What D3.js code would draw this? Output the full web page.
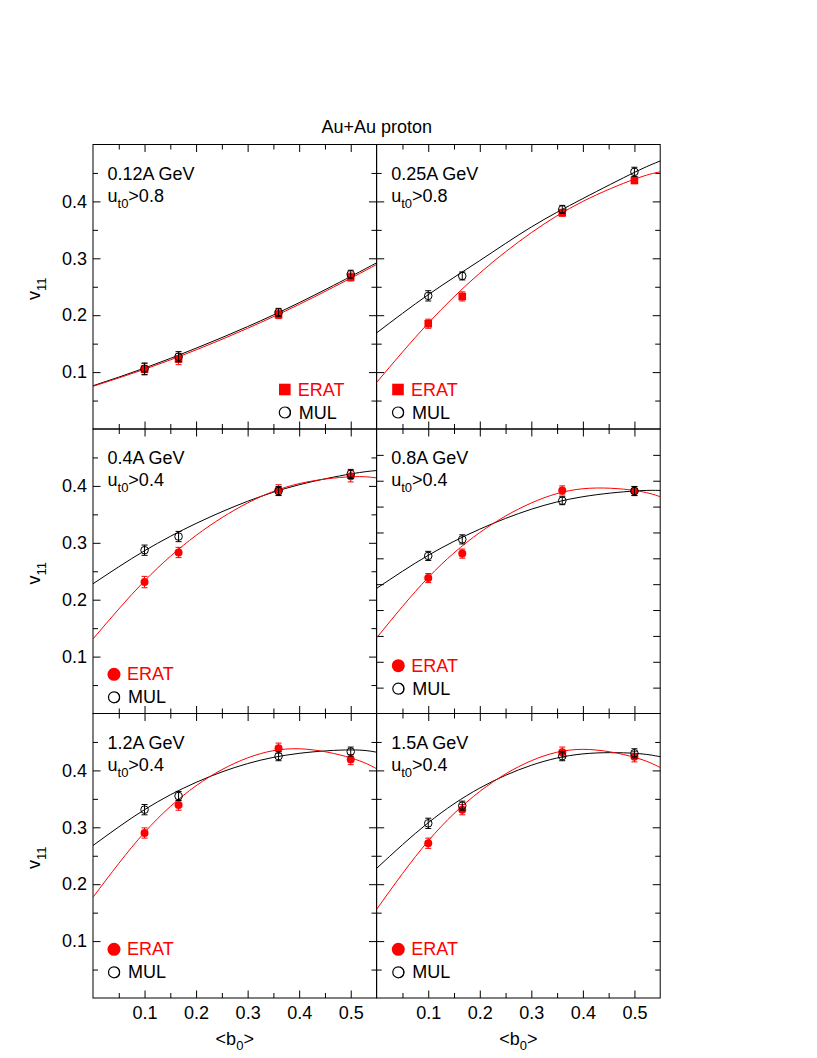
<!DOCTYPE html>
<html>
<head>
<meta charset="utf-8">
<script src="https://cdn.jsdelivr.net/npm/d3@7"></script>
<style>
body { margin: 0; background: #fff; }
text { font-family: "Liberation Sans", Arial, Helvetica, sans-serif; }
</style>
</head>
<body>
<div id="chart-area"></div>
<script>
// data
var bValues = [0.1, 0.166, 0.36, 0.5];
var fitX = [0, 0.1, 0.2, 0.3, 0.4, 0.5, 0.55];
var energies = ["0.12A GeV", "0.25A GeV", "0.4A GeV", "0.8A GeV", "1.2A GeV", "1.5A GeV"];
var cuts = [">0.8", ">0.8", ">0.4", ">0.4", ">0.4", ">0.4"];
var xTicks = [0.1, 0.2, 0.3, 0.4, 0.5];
var yTicks = [0.1, 0.2, 0.3, 0.4];

var eratV = [
	[0.105, 0.123, 0.201, 0.267],
	[0.185, 0.233, 0.380, 0.437],
	[0.231, 0.283, 0.393, 0.417],
	[0.238, 0.281, 0.392, 0.391],
	[0.290, 0.339, 0.439, 0.419],
	[0.272, 0.331, 0.432, 0.424]
];
var eratErr = [
	[0.010, 0.010, 0.007, 0.007],
	[0.008, 0.008, 0.006, 0.006],
	[0.010, 0.009, 0.009, 0.010],
	[0.008, 0.008, 0.008, 0.008],
	[0.009, 0.009, 0.009, 0.009],
	[0.009, 0.009, 0.009, 0.009]
];
var mulV = [
	[0.106, 0.127, 0.205, 0.272],
	[0.234, 0.269, 0.386, 0.452],
	[0.287, 0.311, 0.391, 0.421],
	[0.277, 0.306, 0.374, 0.391],
	[0.331, 0.355, 0.425, 0.433],
	[0.307, 0.338, 0.425, 0.430]
];
var mulErr = [
	[0.010, 0.009, 0.007, 0.007],
	[0.009, 0.007, 0.007, 0.008],
	[0.009, 0.009, 0.008, 0.008],
	[0.008, 0.008, 0.007, 0.008],
	[0.009, 0.008, 0.008, 0.008],
	[0.009, 0.008, 0.008, 0.008]
];
var eratFit = [
	[0.075, 0.105, 0.139, 0.177, 0.219, 0.265, 0.289],
	[0.082, 0.186, 0.274, 0.345, 0.400, 0.439, 0.452],
	[0.131, 0.233, 0.313, 0.370, 0.404, 0.416, 0.414],
	[0.133, 0.239, 0.318, 0.370, 0.395, 0.392, 0.381],
	[0.177, 0.291, 0.373, 0.422, 0.438, 0.422, 0.403],
	[0.156, 0.276, 0.363, 0.417, 0.437, 0.423, 0.405]
];
var mulFit = [
	[0.076, 0.107, 0.142, 0.180, 0.222, 0.268, 0.292],
	[0.169, 0.236, 0.296, 0.355, 0.405, 0.451, 0.471],
	[0.228, 0.286, 0.334, 0.373, 0.402, 0.421, 0.427],
	[0.220, 0.278, 0.324, 0.359, 0.381, 0.391, 0.392],
	[0.268, 0.331, 0.379, 0.412, 0.430, 0.436, 0.432],
	[0.228, 0.308, 0.369, 0.409, 0.429, 0.430, 0.424]
];

// layout
var width = 817;
var height = 1058;
var colX = [93, 376.7];
var rowY = [144.5, 429, 713.5];
var panelW = 283.5;
var panelH = 284.5;
var red = "#ff0000";
var font = 18;
// legend marker position in each panel: x from panel left, y above panel bottom
var legendPos = [
	{ x: 191.8, y: 39.5 }, { x: 21.3, y: 39.5 },
	{ x: 21, y: 39.2 }, { x: 21.6, y: 47.8 },
	{ x: 21, y: 48.7 }, { x: 21.6, y: 48.7 }
];

var svg = d3.select("#chart-area")
	.append("svg")
	.attr("width", width)
	.attr("height", height);

var xScale = d3.scaleLinear().domain([0, 0.55]).range([0, panelW]);
var yScale = d3.scaleLinear().domain([0, 0.5]).range([panelH, 0]);

var fitLine = d3.line()
	.x(d => xScale(d[0]))
	.y(d => yScale(d[1]))
	.curve(d3.curveNatural);

svg.append("text")
	.attr("x", colX[1])
	.attr("y", 133)
	.attr("text-anchor", "middle")
	.attr("font-size", font + "px")
	.text("Au+Au proton");

function styleAxis(g) {
	g.select(".domain").remove();
	g.selectAll("line").attr("stroke", "black").attr("stroke-width", 1);
	g.selectAll("text").attr("font-family", "Liberation Sans, Arial, sans-serif").attr("font-size", font + "px").attr("fill", "black");
	g.attr("font-family", null).attr("font-size", null);
}

var xMajor = [0.1, 0.2, 0.3, 0.4, 0.5];
var xMinor = [0.05, 0.15, 0.25, 0.35, 0.45];
var yMajor = [0.1, 0.2, 0.3, 0.4];
var yMinor = [0.05, 0.15, 0.25, 0.35, 0.45];
var yEleven = d3.range(1, 11).map(k => k * 0.5 / 11);

energies.forEach(function (label, i) {
	var col = i % 2;
	var row = Math.floor(i / 2);
	var g = svg.append("g")
		.attr("transform", "translate(" + colX[col] + "," + rowY[row] + ")");

	// ticks on all four sides
	var sides = [
		{ f: d3.axisBottom, t: "translate(0," + panelH + ")", s: xScale, sign: -1 },
		{ f: d3.axisTop, t: "translate(0,0)", s: xScale, sign: -1 },
		{ f: d3.axisLeft, t: "translate(0,0)", s: yScale, sign: -1 },
		{ f: d3.axisRight, t: "translate(" + panelW + ",0)", s: yScale, sign: -1 }
	];
	sides.forEach(function (sd, k) {
		var isX = k < 2;
		var showLabels = (k === 0 && row === 2) || (k === 2 && col === 0);
		if (!isX && i === 3) {
			g.append("g").attr("transform", sd.t)
				.call(sd.f(sd.s).tickValues(yEleven).tickSizeInner(-7).tickSizeOuter(0).tickFormat(""))
				.call(styleAxis);
			return;
		}
		var major = isX ? xMajor : yMajor;
		var minor = isX ? xMinor : yMinor;
		g.append("g").attr("transform", sd.t)
			.call(sd.f(sd.s).tickValues(minor).tickSizeInner(-5).tickSizeOuter(0).tickFormat(""))
			.call(styleAxis);
		g.append("g").attr("transform", sd.t)
			.call(sd.f(sd.s).tickValues(major).tickSizeInner(-7.5).tickSizeOuter(0)
				.tickPadding(isX ? 8 : 6)
				.tickFormat(showLabels ? d3.format(".1f") : ""))
			.call(styleAxis);
	});

	g.append("rect")
		.attr("width", panelW)
		.attr("height", panelH)
		.attr("fill", "none")
		.attr("stroke", "black")
		.attr("stroke-width", 1);

	// fits
	g.append("path")
		.attr("d", fitLine(fitX.map((x, j) => [x, mulFit[i][j]])))
		.attr("fill", "none").attr("stroke", "black").attr("stroke-width", 1);
	g.append("path")
		.attr("d", fitLine(fitX.map((x, j) => [x, eratFit[i][j]])))
		.attr("fill", "none").attr("stroke", red).attr("stroke-width", 1);

	function drawSeries(vals, errs, color, marker) {
		var pts = bValues.map((b, j) => ({ b: b, v: vals[j], e: errs[j] }));
		var eb = g.append("g").selectAll("g").data(pts).enter().append("g")
			.attr("stroke", color).attr("stroke-width", 1);
		eb.append("line")
			.attr("x1", d => xScale(d.b)).attr("x2", d => xScale(d.b))
			.attr("y1", d => yScale(d.v - d.e)).attr("y2", d => yScale(d.v + d.e));
		[-1, 1].forEach(function (s) {
			eb.append("line")
				.attr("x1", d => xScale(d.b) - 3).attr("x2", d => xScale(d.b) + 3)
				.attr("y1", d => yScale(d.v + s * d.e)).attr("y2", d => yScale(d.v + s * d.e));
		});
		if (marker === "square") {
			g.selectAll(null).data(pts).enter().append("rect")
				.attr("x", d => xScale(d.b) - 3.8).attr("y", d => yScale(d.v) - 3.8)
				.attr("width", 7.6).attr("height", 7.6).attr("fill", color);
		} else if (marker === "circle") {
			g.selectAll(null).data(pts).enter().append("circle")
				.attr("cx", d => xScale(d.b)).attr("cy", d => yScale(d.v))
				.attr("r", 4).attr("fill", color);
		} else {
			g.selectAll(null).data(pts).enter().append("circle")
				.attr("cx", d => xScale(d.b)).attr("cy", d => yScale(d.v))
				.attr("r", 3.8).attr("fill", "none").attr("stroke", color).attr("stroke-width", 1);
		}
	}
	var eratMarker = row === 0 ? "square" : "circle";
	drawSeries(eratV[i], eratErr[i], red, eratMarker);
	drawSeries(mulV[i], mulErr[i], "black", "open");

	// panel labels
	g.append("text")
		.attr("x", 14.5).attr("y", 35)
		.attr("font-size", font + "px")
		.text(label);
	var ut = g.append("text")
		.attr("x", 14.5).attr("y", 57)
		.attr("font-size", font + "px");
	ut.append("tspan").text("u");
	ut.append("tspan").attr("font-size", "13px").attr("dy", 6).text("t0");
	ut.append("tspan").attr("dy", -6).text(cuts[i]);

	// legend
	var lp = legendPos[i];
	var ly = panelH - lp.y;
	if (eratMarker === "square") {
		g.append("rect").attr("x", lp.x - 5.8).attr("y", ly - 5.8)
			.attr("width", 11.6).attr("height", 11.6).attr("fill", red);
	} else {
		g.append("circle").attr("cx", lp.x).attr("cy", ly).attr("r", 6.5).attr("fill", red);
	}
	g.append("text").attr("x", lp.x + 13).attr("y", ly + 6)
		.attr("font-size", font + "px").attr("fill", red).text("ERAT");
	g.append("circle").attr("cx", lp.x).attr("cy", ly + 23).attr("r", 5.5)
		.attr("fill", "none").attr("stroke", "black").attr("stroke-width", 1.2);
	g.append("path")
		.attr("d", d3.arc()({ innerRadius: 5.2, outerRadius: 6.2, startAngle: 0.3, endAngle: Math.PI - 0.3 }))
		.attr("transform", "translate(" + lp.x + "," + (ly + 23) + ")")
		.attr("fill", "black");
	g.append("text").attr("x", lp.x + 14).attr("y", ly + 29)
		.attr("font-size", font + "px").text("MUL");
});

// axis titles
rowY.forEach(function (ry) {
	var t = svg.append("text")
		.attr("transform", "translate(40," + (ry + panelH / 2 + 2) + ") rotate(-90)")
		.attr("text-anchor", "middle")
		.attr("font-size", font + "px");
	t.append("tspan").text("v");
	t.append("tspan").attr("font-size", "13px").attr("dy", 6).text("11");
});
colX.forEach(function (cx) {
	var t = svg.append("text")
		.attr("x", cx + panelW / 2)
		.attr("y", 1045)
		.attr("text-anchor", "middle")
		.attr("font-size", font + "px");
	t.append("tspan").text("<b");
	t.append("tspan").attr("font-size", "13px").attr("dy", 5).text("0");
	t.append("tspan").attr("dy", -5).text(">");
});
</script>
</body>
</html>
